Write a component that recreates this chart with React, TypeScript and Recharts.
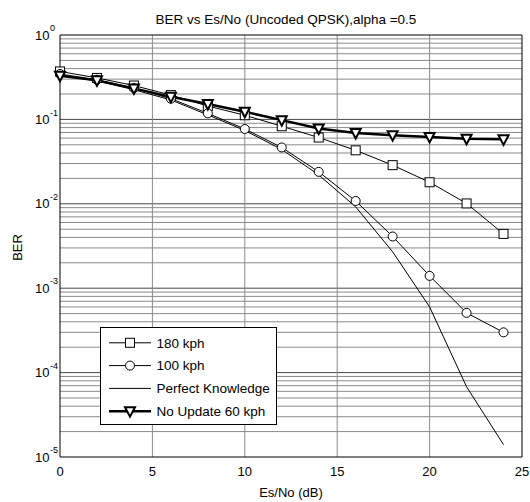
import React from 'react';
import { LineChart, Line, XAxis, YAxis, ReferenceLine } from 'recharts';

const esNo = [0, 2, 4, 6, 8, 10, 12, 14, 16, 18, 20, 22, 24];
const ber180 = [0.37, 0.31, 0.252, 0.194, 0.144, 0.112, 0.083, 0.061, 0.043, 0.0287, 0.018, 0.0101, 0.0044];
const ber100 = [0.345, 0.295, 0.235, 0.176, 0.118, 0.077, 0.0465, 0.0239, 0.0108, 0.0041, 0.0014, 0.00051, 0.0003];
const berPerfect = [0.335, 0.285, 0.225, 0.17, 0.113, 0.074, 0.044, 0.022, 0.0092, 0.0027, 0.0006, 0.000068, 0.000014];
const berNoUpdate = [0.33, 0.29, 0.233, 0.185, 0.152, 0.123, 0.098, 0.078, 0.069, 0.065, 0.062, 0.059, 0.058];

const xTicks = [0, 5, 10, 15, 20, 25];
const yTicks = [1e-5, 1e-4, 1e-3, 1e-2, 1e-1, 1];
const xGrid = [5, 10, 15, 20];
const decades = [1e-5, 1e-4, 1e-3, 1e-2, 1e-1];
const minorMult = [2, 3, 4, 5, 6, 7, 8, 9];
const majorGrid = [1e-4, 1e-3, 1e-2, 1e-1];

const title = 'BER vs Es/No (Uncoded QPSK),alpha =0.5';
const xLabel = 'Es/No (dB)';
const yLabel = 'BER';
const legendNames = ['180 kph', '100 kph', 'Perfect Knowledge', 'No Update 60 kph'];

const FONT = '"Liberation Sans", Arial, sans-serif';

const rows = esNo.map((x, i) => ({
  x,
  b180: ber180[i],
  b100: ber100[i],
  bp: berPerfect[i],
  bn: berNoUpdate[i],
}));

const minorGrid: number[] = [];
decades.forEach((d) => minorMult.forEach((m) => minorGrid.push(m * d)));

const Square = (cx: number, cy: number, key?: any) => (
  <rect key={key} x={cx - 4.5} y={cy - 4.5} width={9} height={9} fill="#fff" stroke="#000" strokeWidth={1} />
);
const Circ = (cx: number, cy: number, key?: any) => (
  <circle key={key} cx={cx} cy={cy} r={4.5} fill="#fff" stroke="#000" strokeWidth={1} />
);
const Tri = (cx: number, cy: number, key?: any) => (
  <polygon
    key={key}
    points={`${cx - 5},${cy - 4} ${cx + 5},${cy - 4} ${cx},${cy + 5.5}`}
    fill="#fff"
    stroke="#000"
    strokeWidth={2}
    strokeLinejoin="miter"
  />
);

const dotFn = (shape: (cx: number, cy: number, key?: any) => React.ReactElement) => (p: any) => {
  if (p.cx == null || p.cy == null) return <g key={p.key} />;
  return shape(p.cx, p.cy, p.key ?? `${p.index}`);
};

const YTick = (props: any) => {
  const { x, y, payload } = props;
  const e = Math.round(Math.log10(payload.value));
  return (
    <g>
      <text x={x - 10.5} y={y} dy="0.36em" textAnchor="end" fontSize={13} fontFamily={FONT} fill="#000">
        10
      </text>
      <text x={x - 10} y={y - 7} dy="0.36em" textAnchor="start" fontSize={9} fontFamily={FONT} fill="#000">
        {String(e)}
      </text>
    </g>
  );
};

export default function App() {
  const legendRows = [
    { name: legendNames[0], w: 1, mk: Square },
    { name: legendNames[1], w: 1, mk: Circ },
    { name: legendNames[2], w: 1, mk: null },
    { name: legendNames[3], w: 2.5, mk: Tri },
  ];
  return (
    <div style={{ position: 'absolute', left: 0, top: 0, width: 530, height: 502, background: '#fff' }}>
      <LineChart width={530} height={502} data={rows} margin={{ top: 35, right: 8, left: 0, bottom: 0 }}>
        <XAxis
          dataKey="x"
          type="number"
          domain={[0, 25]}
          ticks={xTicks}
          height={45}
          axisLine={{ stroke: '#000', strokeWidth: 1 }}
          tickLine={false}
          tickMargin={4}
          tick={{ fill: '#000', fontSize: 13, fontFamily: FONT }}
        />
        <YAxis
          type="number"
          scale="log"
          domain={[1e-5, 1]}
          ticks={yTicks}
          width={60}
          allowDataOverflow
          axisLine={{ stroke: '#000', strokeWidth: 1 }}
          tickLine={false}
          tickSize={0}
          tickMargin={0}
          tick={<YTick />}
        />
        {minorGrid.map((v) => (
          <ReferenceLine key={`m${v}`} y={v} stroke="#8a8a8a" strokeWidth={1} />
        ))}
        {majorGrid.map((v) => (
          <ReferenceLine key={`M${v}`} y={v} stroke="#444" strokeWidth={1} />
        ))}
        {xGrid.map((v) => (
          <ReferenceLine key={`x${v}`} x={v} stroke="#8a8a8a" strokeWidth={1} />
        ))}
        <ReferenceLine y={1} stroke="#000" strokeWidth={1} />
        <ReferenceLine x={25} stroke="#000" strokeWidth={1} />
        <Line
          dataKey="bp"
          stroke="#000"
          strokeWidth={1}
          dot={false}
          isAnimationActive={false}
          type="linear"
        />
        <Line
          dataKey="b180"
          stroke="#000"
          strokeWidth={1}
          dot={dotFn(Square)}
          isAnimationActive={false}
          type="linear"
        />
        <Line
          dataKey="b100"
          stroke="#000"
          strokeWidth={1}
          dot={dotFn(Circ)}
          isAnimationActive={false}
          type="linear"
        />
        <Line
          dataKey="bn"
          stroke="#000"
          strokeWidth={2.5}
          dot={dotFn(Tri)}
          isAnimationActive={false}
          type="linear"
        />
      </LineChart>
      <svg
        width={530}
        height={502}
        style={{ position: 'absolute', left: 0, top: 0, pointerEvents: 'none' }}
      >
        <text x={286} y={24} textAnchor="middle" fontSize={13.5} fontFamily={FONT} fill="#000">
          {title}
        </text>
        <text x={291} y={497} textAnchor="middle" fontSize={13} fontFamily={FONT} fill="#000">
          {xLabel}
        </text>
        <text
          transform="translate(21.5,247.5) rotate(-90)"
          textAnchor="middle"
          fontSize={13}
          fontFamily={FONT}
          fill="#000"
        >
          {yLabel}
        </text>
        <rect x={100.5} y={327.5} width={176} height={97} fill="#fff" stroke="#000" strokeWidth={1} />
        {legendRows.map((r, i) => {
          const y = 342.8 + i * 22.8;
          return (
            <g key={r.name}>
              <line x1={109} x2={151} y1={y} y2={y} stroke="#000" strokeWidth={r.w} />
              {r.mk ? r.mk(130, y) : null}
              <text x={156.5} y={y + 4.7} fontSize={13.5} fontFamily={FONT} fill="#000">
                {r.name}
              </text>
            </g>
          );
        })}
      </svg>
    </div>
  );
}
